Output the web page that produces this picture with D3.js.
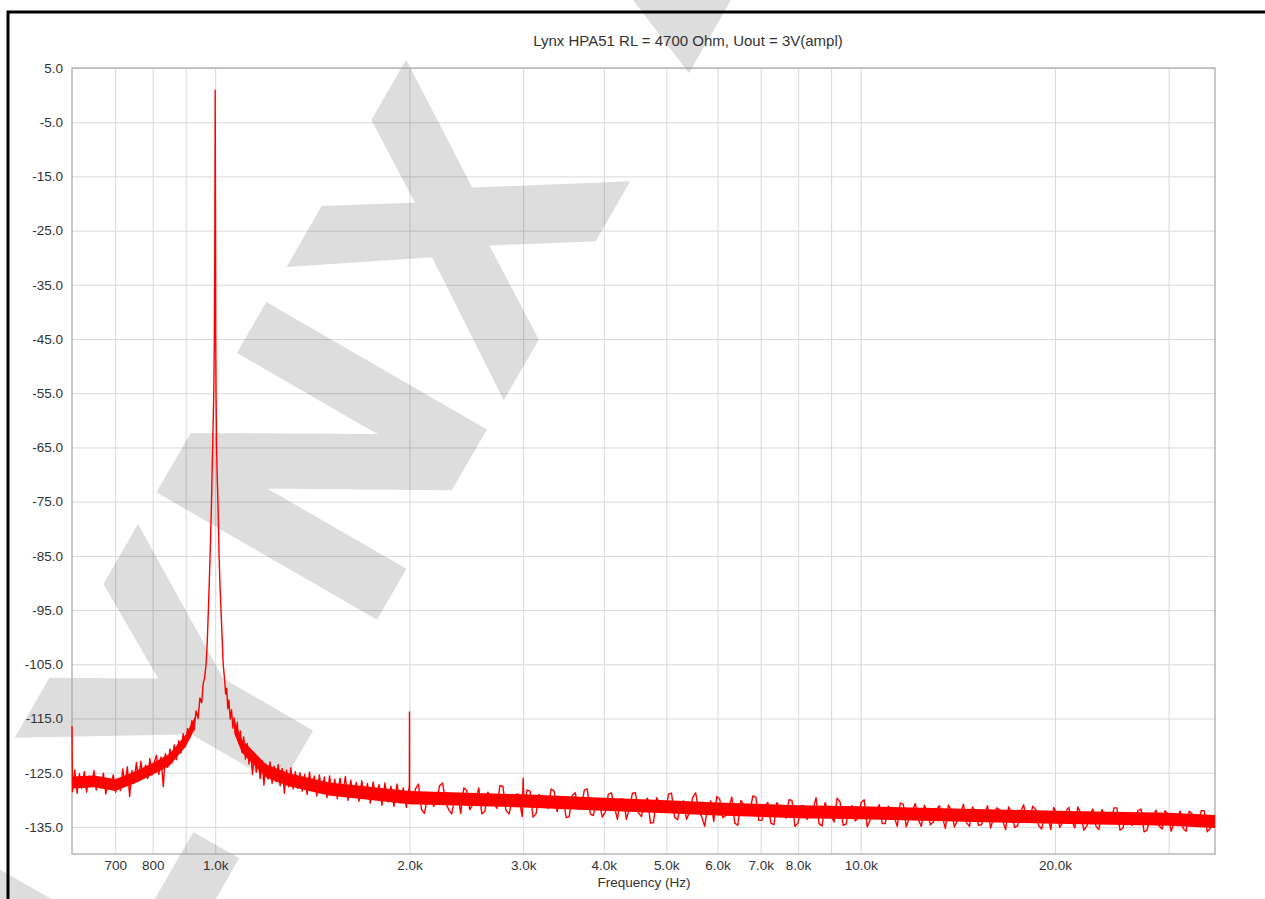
<html>
<script src='https://d3js.org/d3.v7.min.js'></script>
<style>
body {margin:0; background:#fff;}
text {font-family:'Liberation Sans', Arial, sans-serif; fill:#333;}
.grid line {stroke:#d9d9d9; stroke-width:1;}
.grid path, .axis path {display:none;}
.axis text {font-size:13.5px; fill:#333;}
</style>
<body>
<svg width=1265 height=899></svg>
<script>
var title = 'Lynx HPA51 RL = 4700 Ohm, Uout = 3V(ampl)';
var xTitle = 'Frequency (Hz)';

var yTicks = [5,-5,-15,-25,-35,-45,-55,-65,-75,-85,-95,-105,-115,-125,-135];
var xTicks = [700,800,900,1000,2000,3000,4000,5000,6000,7000,8000,9000,10000,20000,30000];
var xTickLabels = ['700','800','','1.0k','2.0k','3.0k','4.0k','5.0k','6.0k','7.0k','8.0k','','10.0k','20.0k',''];

// spectrum trace 600 Hz - 2 kHz (Hz, dB)
var freqHz = [600,601,606,611,616,621,627,632,638,643,649,654,660,665,671,677,683,689,695,701,707,713,719,725,731,737,743,749,755,761,767,773,780,786,792,798,805,811,818,824,831,837,844,851,857,864,871,878,885,892,899,906,913,920,927,934,941,947,953,958,963,968,972,976,979,982,985,987,989,991,993,995,997,998.5,999.5,1000,1000.5,1001.5,1002,1003,1004,1005,1007,1010,1012,1014,1017,1021,1025,1029,1034,1038,1042,1046,1050,1055,1060,1065,1070,1076,1082,1088,1094,1100,1107,1114,1121,1128,1135,1142,1150,1158,1166,1174,1182,1190,1198,1207,1216,1225,1234,1243,1252,1261,1270,1280,1290,1300,1310,1320,1331,1342,1353,1364,1376,1388,1400,1412,1424,1437,1450,1463,1476,1490,1504,1518,1532,1546,1561,1576,1591,1606,1622,1638,1654,1670,1687,1704,1721,1739,1757,1775,1794,1813,1832,1852,1872,1892,1913,1934,1956,1978,1999,2000,2001];
var levelDb = [-116.4,-128.5,-124.5,-128.8,-125.2,-127.9,-124.8,-128.6,-125.6,-127.4,-124.6,-128.2,-125.9,-127.8,-125.1,-128.9,-126.2,-127.5,-125.4,-128.6,-126.1,-128.3,-124.3,-127.2,-123.9,-129.4,-124.6,-126.8,-123.1,-126.5,-122.9,-125.9,-123.6,-126.1,-122.4,-125.4,-123.0,-121.8,-125.3,-122.1,-127.6,-121.5,-124.0,-120.6,-123.2,-119.9,-122.6,-119.1,-121.4,-117.8,-120.2,-116.9,-118.6,-115.4,-117.2,-113.6,-115.0,-111.2,-112.1,-108.6,-107.5,-105,-101,-95,-90,-85,-79,-75,-70,-65,-60,-55,-45,-30,-10,0.9,-10,-30,-45,-55,-60,-65,-70,-75,-80,-85,-90,-95,-100,-105,-107.8,-110.5,-109.4,-113.2,-111.6,-115.1,-113.4,-116.8,-114.9,-118.2,-115.7,-119.6,-117.3,-121.2,-118.4,-122.5,-119.6,-123.4,-120.7,-125.3,-121.6,-124.9,-122.2,-126.1,-122.8,-127.3,-123.4,-126.2,-123.0,-127.0,-123.8,-126.6,-123.5,-127.4,-124.2,-128.8,-124.5,-127.6,-124.1,-128.0,-124.8,-127.9,-125.0,-128.4,-125.3,-129.0,-124.9,-128.2,-125.6,-129.3,-125.4,-128.6,-125.8,-129.6,-125.6,-129.0,-126.2,-129.8,-126.0,-128.9,-125.7,-130.1,-126.4,-129.5,-126.8,-130.3,-126.5,-129.7,-127.0,-130.6,-126.7,-130.0,-127.2,-131.0,-126.9,-130.4,-127.5,-131.2,-127.1,-130.6,-127.8,-131.4,-127.4,-113.8,-128.5];

// noise floor 2 kHz - 35 kHz (Hz, dB)
var floorHz = [
  2022,2043,2065,2088,2110,2133,2156,2180,2203,2227,
  2251,2276,2300,2325,2350,2376,2401,2427,2453,2480,
  2507,2534,2561,2589,2617,2645,2674,2703,2732,2761,
  2791,2821,2852,2883,2914,2945,2967,2990,3000,3009,
  3042,3075,3108,3141,3175,3210,3244,3279,3315,3351,
  3387,3423,3460,3498,3536,3574,3612,3651,3691,3731,
  3771,3812,3853,3894,3936,3979,4022,4065,4109,4154,
  4199,4244,4290,4336,4383,4430,4478,4526,4575,4625,
  4675,4725,4776,4828,4880,4933,4986,5040,5094,5149,
  5205,5261,5318,5375,5433,5492,5551,5611,5672,5733,
  5795,5858,5921,5985,6050,6115,6181,6247,6315,6383,
  6452,6521,6592,6663,6735,6807,6881,6955,7030,7106,
  7183,7260,7339,7418,7498,7579,7661,7743,7827,7911,
  7997,8083,8170,8258,8347,8437,8529,8621,8714,8808,
  8903,8999,9096,9194,9294,9394,9496,9598,9702,9806,
  9912,10019,10127,10236,10347,10458,10571,10685,10801,10917,
  11035,11154,11275,11396,11519,11643,11769,11896,12024,12154,
  12285,12418,12552,12687,12824,12963,13103,13244,13387,13531,
  13677,13825,13974,14125,14278,14432,14588,14745,14904,15065,
  15228,15392,15558,15726,15896,16067,16241,16416,16593,16772,
  16953,17136,17321,17508,17697,17888,18081,18276,18474,18673,
  18875,19078,19284,19492,19703,19915,20130,20347,20567,20789,
  21014,21240,21470,21701,21935,22172,22411,22653,22898,23145,
  23395,23647,23902,24160,24421,24684,24951,25220,25492,25767,
  26046,26327,26611,26898,27189,27482,27779,28078,28381,28687,
  28997,29310,29627,29946,30270,30596,30927,31260,31598,31938,
  32283,32631,32984,33339,33700,34063,34431,34802,35100,35400];
var floorDb = [
  -130.8,-128.0,-127.1,-131.8,-132.5,-129.3,-128.8,-131.2,-130.2,-127.4,
  -126.9,-130.6,-131.8,-132.6,-129.8,-129.0,-132.5,-127.8,-128.3,-131.8,
  -130.9,-129.8,-127.8,-132.6,-132.1,-128.6,-129.5,-130.6,-131.6,-127.4,
  -127.5,-131.9,-132.6,-130.3,-129.1,-128.9,-130.8,-133.1,-126.0,-131.2,
  -128.2,-128.4,-133.2,-132.6,-129.0,-129.7,-130.6,-131.6,-128.0,-128.4,
  -132.2,-130.3,-129.7,-133.3,-133.1,-129.2,-128.7,-131.4,-131.7,-128.2,
  -128.0,-132.6,-132.9,-130.3,-130.5,-133.2,-132.2,-129.0,-128.7,-131.2,
  -133.6,-129.9,-129.9,-133.6,-131.5,-128.8,-128.7,-132.4,-133.1,-130.5,
  -129.7,-134.3,-134.2,-129.6,-130.5,-132.2,-132.3,-128.9,-128.8,-133.2,
  -133.7,-130.6,-130.2,-133.6,-132.2,-129.6,-128.7,-131.9,-133.1,-134.9,
  -131.2,-130.2,-134.0,-129.4,-129.9,-133.3,-132.9,-131.4,-129.5,-134.3,
  -134.7,-130.1,-130.9,-132.5,-132.2,-129.3,-129.5,-133.8,-133.8,-131.1,
  -130.5,-134.3,-134.6,-130.5,-131.4,-132.3,-133.4,-130.0,-130.1,-134.9,
  -134.3,-131.1,-131.1,-133.6,-132.9,-131.8,-129.6,-134.4,-134.8,-130.5,
  -132.1,-133.0,-134.1,-129.7,-130.4,-134.7,-134.5,-131.6,-131.1,-133.9,
  -133.3,-130.5,-130.0,-135.0,-133.7,-132.3,-132.1,-130.9,-134.4,-134.4,
  -131.2,-131.7,-133.2,-134.9,-130.6,-130.8,-135.0,-133.3,-132.0,-130.7,
  -133.7,-134.9,-131.0,-132.3,-134.6,-134.1,-131.8,-131.1,-133.2,-135.3,
  -131.0,-131.9,-135.0,-133.8,-132.4,-130.8,-134.2,-134.9,-131.3,-132.3,
  -134.7,-134.6,-132.7,-131.1,-135.2,-133.4,-131.5,-131.8,-133.8,-135.5,
  -131.3,-132.3,-135.1,-134.8,-132.2,-130.9,-134.2,-133.9,-131.2,-131.8,
  -134.8,-135.4,-132.1,-132.9,-135.5,-131.4,-132.6,-135.1,-134.1,-132.2,
  -131.4,-133.8,-135.2,-131.3,-132.5,-135.6,-134.8,-132.7,-131.7,-134.8,
  -135.5,-131.8,-133.0,-133.7,-134.4,-131.5,-131.5,-135.6,-135.2,-132.6,
  -132.5,-134.7,-134.1,-132.0,-131.7,-135.9,-135.6,-133.2,-132.9,-131.9,
  -134.8,-135.4,-132.0,-132.8,-135.8,-134.3,-133.2,-132.1,-135.3,-135.8,
  -132.1,-132.6,-134.6,-134.9,-132.0,-132.0,-135.9,-135.3,-133.2,-133.8];

// dense core of the noise floor (upper / lower edge), null = no band
var bandHz = [600,650,700,750,800,850,900,930,1000,1070,1100,1200,1300,1500,2000,3000,4000,5000,6000,8000,10000,15000,20000,30000,35400];
var bandHi = [-125.7,-125.5,-126.2,-124.8,-123.2,-121.5,-118.0,-114.7,null,-115.3,-118.9,-123.5,-125.1,-126.8,-128.4,-129.0,-129.6,-130.1,-130.5,-131.0,-131.2,-131.7,-132.0,-132.4,-132.8];
var bandLo = [-127.9,-127.7,-128.4,-127.0,-125.4,-123.7,-120.2,-116.9,null,-117.7,-121.3,-125.9,-127.5,-129.2,-130.8,-131.4,-132.0,-132.5,-132.9,-133.4,-133.6,-134.1,-134.4,-134.8,-135.2];

var L = 72, R = 1215, T = 68, B = 854;
var svg = d3.select('svg');

xs = d3.scaleLog().domain([600,35400]).range([L,R]);
ys = d3.scaleLinear().domain([-140,5]).range([B,T]);

// grid
svg.append('g').attr('class','grid').attr('transform','translate(0,'+B+')')
  .call(d3.axisBottom(xs).tickValues(xTicks).tickSize(-(B-T)).tickFormat(''));
svg.append('g').attr('class','grid').attr('transform','translate('+L+',0)')
  .call(d3.axisLeft(ys).tickValues(yTicks).tickSize(-(R-L)).tickFormat(''));

// watermark
var wm = svg.append('g').attr('opacity',0.13);
wm.append('text').attr('transform','translate(23,976) rotate(-60)')
  .attr('dominant-baseline','central')
  .style('font-size','350px').style('font-weight','bold').style('letter-spacing','27px')
  .style('fill','#000').attr('stroke','#000').attr('stroke-width',14)
  .text('LYNX');
wm.append('path').attr('d','M633,0H731L689,73Z').attr('fill','#000');

// plot frame
svg.append('rect').attr('x',L).attr('y',T).attr('width',R-L).attr('height',B-T)
  .attr('fill','none').attr('stroke','#ababab').attr('stroke-width',1.3);

// axes labels
svg.append('g').attr('class','axis').attr('transform','translate(0,'+B+')')
  .call(d3.axisBottom(xs).tickValues(xTicks).tickSize(0).tickPadding(6.5)
    .tickFormat(function(d,i){return xTickLabels[i];}));
svg.append('g').attr('class','axis').attr('transform','translate('+L+',0)')
  .call(d3.axisLeft(ys).tickValues(yTicks).tickSize(0).tickPadding(9)
    .tickFormat(function(d){return d.toFixed(1);}));

// noise band core
var band = bandHz.map(function(f,i){return {f:f, hi:bandHi[i], lo:bandLo[i]};});
svg.append('path').datum(band)
  .attr('fill','#f00')
  .attr('d', d3.area().defined(function(d){return d.hi !== null;})
    .x(function(d){return xs(d.f);})
    .y0(function(d){return ys(d.lo);})
    .y1(function(d){return ys(d.hi);}));

// trace
var trace = freqHz.concat(floorHz).map(function(f,i){
  return {f:f, v: i < levelDb.length ? levelDb[i] : floorDb[i - levelDb.length]};
});
svg.append('path').datum(trace)
  .attr('fill','none').attr('stroke','#f00').attr('stroke-width',1.4)
  .attr('stroke-linejoin','round')
  .attr('d', d3.line().x(function(d){return xs(d.f);}).y(function(d){return ys(d.v);}));

// titles
svg.append('text').attr('x',688).attr('y',46).attr('text-anchor','middle')
  .style('font-size','15px').text(title);
svg.append('text').attr('x',644).attr('y',887).attr('text-anchor','middle')
  .style('font-size','13.5px').text(xTitle);

// outer black frame
svg.append('path').attr('d','M8,899V12H1265').attr('fill','none')
  .attr('stroke','#000').attr('stroke-width',3);
</script>
</body>
</html>
